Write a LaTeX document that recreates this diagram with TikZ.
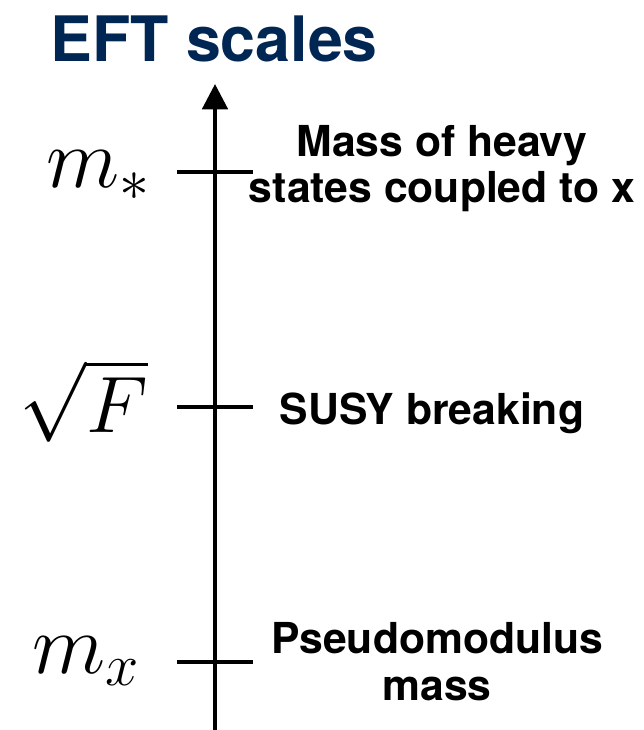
\RequirePackage{fix-cm}
\documentclass[tikz,border=0pt]{standalone}
\usepackage{fontspec}
\newfontfamily\helv{TeX Gyre Heros}
\usetikzlibrary{arrows.meta}
\definecolor{eftblue}{RGB}{0,38,84}
\tikzset{
  scaletick/.style={line width=3pt},
  scalelabel/.style={font=\helv\bfseries\fontsize{32}{35}\selectfont,align=center,inner sep=0pt},
  scalesym/.style={font=\fontsize{64}{70}\selectfont,inner sep=0pt,anchor=base east}
}
\begin{document}
\begin{tikzpicture}[x=0.75pt,y=-0.75pt]
\useasboundingbox (0,0) rectangle (643,730);
\node[anchor=base,inner sep=0pt,text=eftblue,font=\helv\bfseries\fontsize{47}{50}\selectfont] (title) at (214,62) {EFT scales};

% axis
\coordinate (bot) at (215,730);
\coordinate (top) at (215,84);
\draw[line width=3pt,-{Triangle[width=19pt,length=19pt]}] (bot)--(top);

% ticks
\coordinate (tl1) at (177,172); \coordinate (tr1) at (253,172);
\coordinate (tl2) at (177,407); \coordinate (tr2) at (253,407);
\coordinate (tl3) at (177,662); \coordinate (tr3) at (253,662);
\draw[scaletick] (tl1)--(tr1);
\draw[scaletick] (tl2)--(tr2);
\draw[scaletick] (tl3)--(tr3);

\node[scalesym] (mstar) at (150,188) {$m_*$};
\node[scalesym,font=\fontsize{60}{66}\selectfont] (sqrtF) at (148,432) {$\sqrt{F}$};
\node[scalesym] (mx) at (140,673) {$m_x$};

\node[scalelabel,anchor=base] (heavy) at (442,203) {Mass of heavy\\states coupled to x};
\node[scalelabel,anchor=base] (susy) at (432,424) {SUSY breaking};
\node[scalelabel,anchor=base] (pseudo) at (437,700) {Pseudomodulus\\mass};
\end{tikzpicture}
\end{document}
